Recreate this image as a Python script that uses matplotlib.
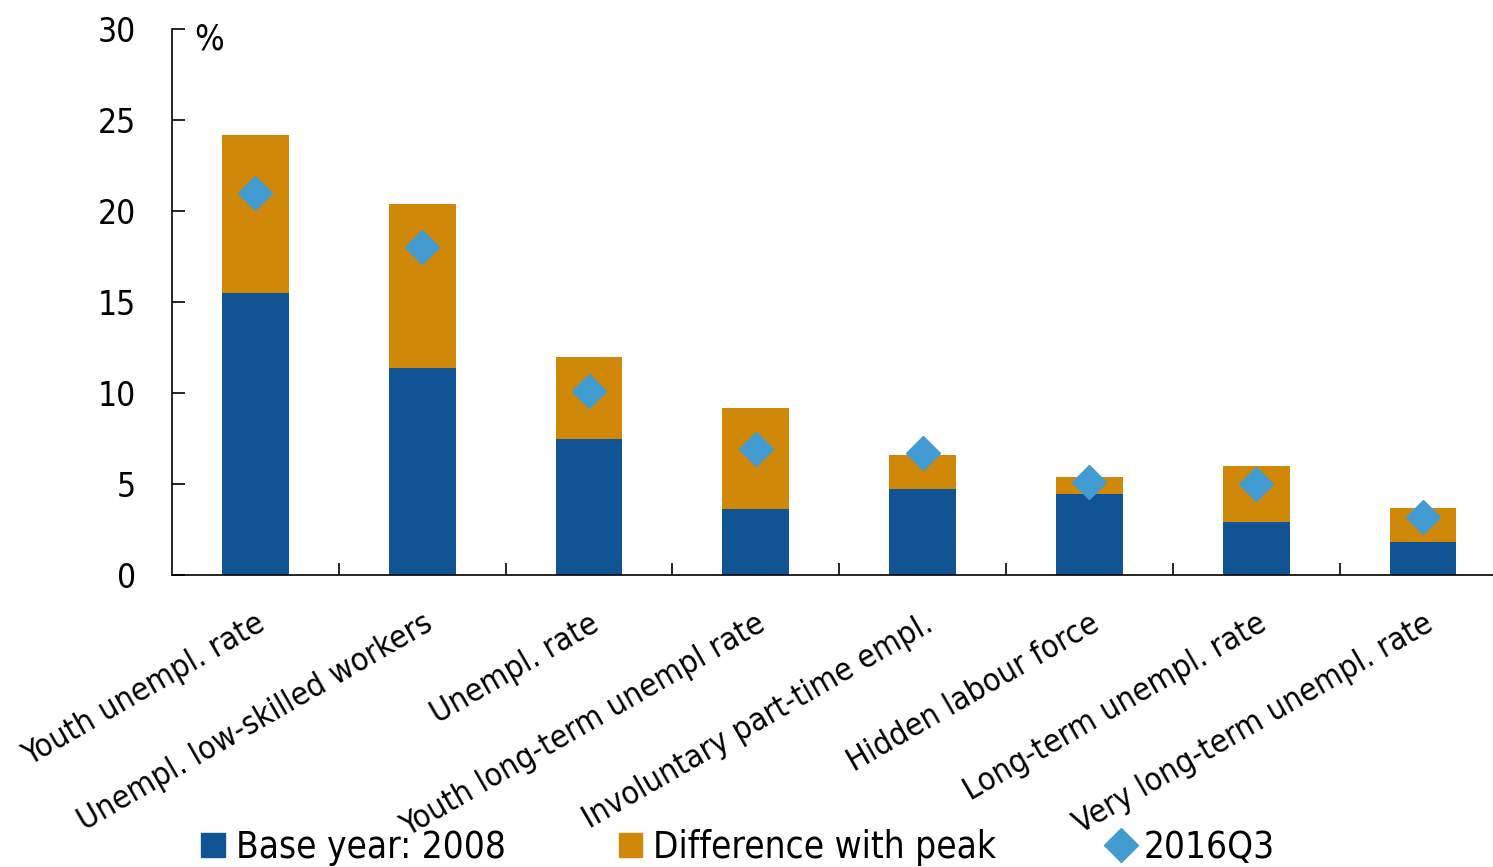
import matplotlib.pyplot as plt
import numpy as np
from matplotlib.lines import Line2D
from matplotlib.patches import Patch

categories = ['Youth unempl. rate', 'Unempl. low-skilled workers', 'Unempl. rate',
              'Youth long-term unempl rate', 'Involuntary part-time empl.',
              'Hidden labour force', 'Long-term unempl. rate',
              'Very long-term unempl. rate']
base_2008 = [15.5, 11.4, 7.5, 3.6, 4.7, 4.45, 2.9, 1.8]
peak = [24.2, 20.4, 12.0, 9.2, 6.6, 5.4, 6.0, 3.7]
q3_2016 = [21.0, 18.0, 10.1, 6.9, 6.7, 5.1, 5.0, 3.2]

diff_peak = [p - b for p, b in zip(peak, base_2008)]

blue = '#105494'
orange = '#D08808'
light_blue = '#429CD2'

plt.rcParams['font.family'] = ['DejaVu Sans']
plt.rcParams['font.stretch'] = 'condensed'

fig = plt.figure(figsize=(14.93, 8.67), dpi=100)
ax = fig.add_axes([172 / 1493, 1 - 575 / 867, 1 - 172 / 1493, (575 - 29) / 867])

x = np.arange(len(categories))
ax.bar(x, base_2008, width=0.4, color=blue, label='Base year: 2008')
ax.bar(x, diff_peak, width=0.4, bottom=base_2008, color=orange, label='Difference with peak')
ax.plot(x, q3_2016, linestyle='none', marker='D', markersize=17, color=light_blue,
        label='2016Q3')

ax.set_xlim(-0.5, 7.42)
ax.set_ylim(0, 30)
ax.set_yticks(np.arange(0, 31, 5))

for s in ['top', 'right']:
    ax.spines[s].set_visible(False)
ax.spines['left'].set_linewidth(1.2)
ax.spines['bottom'].set_linewidth(1.2)

ax.tick_params(axis='y', direction='in', length=9, width=1.2, pad=26, labelsize=24)
ax.set_xticks(x)
ax.set_xticklabels(categories, rotation=30, ha='right', va='top', rotation_mode='anchor',
                   fontsize=23)
ax.tick_params(axis='x', which='major', length=0, pad=24)
ax.set_xticks(x[:-1] + 0.5, minor=True)
ax.tick_params(axis='x', which='minor', direction='in', length=9, width=1.2)

ax.text(0.017, 1.012, '%', transform=ax.transAxes, fontsize=25, va='top', ha='left')

handles = [Patch(color=blue), Patch(color=orange),
           Line2D([], [], linestyle='none', marker='D', markersize=17, color=light_blue)]
labels = ['Base year: 2008', 'Difference with peak', '2016Q3']
fig.legend(handles, labels, loc='lower left', bbox_to_anchor=(183 / 1493, -0.02), ncol=3,
           frameon=False, fontsize=26.5, handlelength=0.65, handleheight=0.65,
           handletextpad=0.3, columnspacing=3.05, borderpad=0)

fig.savefig('out.png', dpi=100)
